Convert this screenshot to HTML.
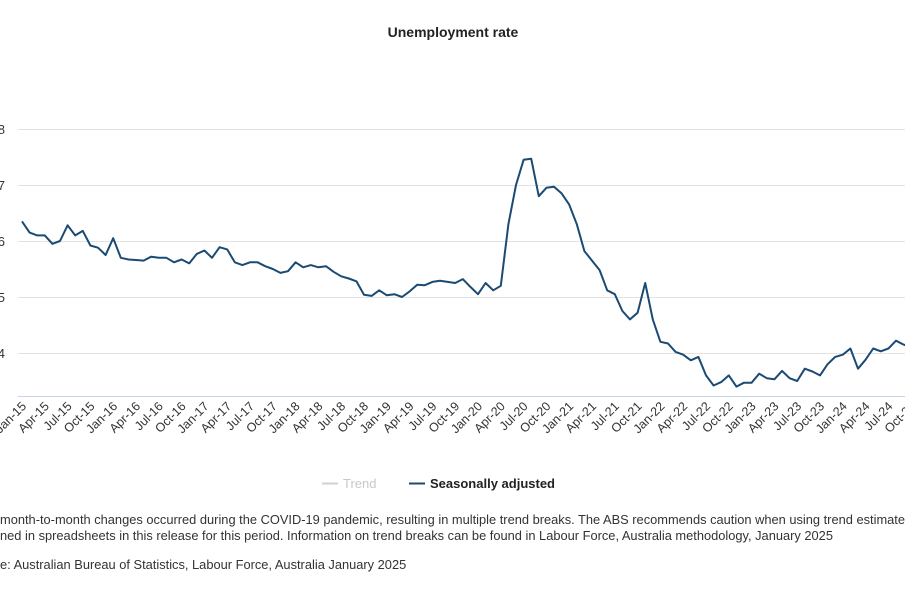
<!DOCTYPE html>
<html><head><meta charset="utf-8"><style>
html,body{margin:0;padding:0;background:#fff;width:905px;height:600px;overflow:hidden}
svg{display:block;font-family:"Liberation Sans",Arial,sans-serif}
</style></head><body>
<svg id="s" width="905" height="600" viewBox="0 0 905 600">
<text x="453" y="37" text-anchor="middle" font-size="14" font-weight="bold" fill="#222">Unemployment rate</text>
<g stroke="#e3e3e3" stroke-width="1">
<line x1="18" x2="905" y1="129.5" y2="129.5"/>
<line x1="18" x2="905" y1="185.5" y2="185.5"/>
<line x1="18" x2="905" y1="241.5" y2="241.5"/>
<line x1="18" x2="905" y1="297.5" y2="297.5"/>
<line x1="18" x2="905" y1="353.5" y2="353.5"/>
</g>
<line x1="18" x2="905" y1="396.5" y2="396.5" stroke="#c9d4ec" stroke-width="1"/>
<g font-size="13" fill="#333" text-anchor="end">
<text x="5" y="134">8</text><text x="5" y="190">7</text><text x="5" y="246">6</text><text x="5" y="302">5</text><text x="5" y="358">4</text>
</g>
<g id="xl" font-size="12.5" fill="#333" text-anchor="end"></g>
<path id="p" fill="none" stroke="#1b4a72" stroke-width="2" stroke-linejoin="round"/>
<line x1="322" x2="338" y1="483.5" y2="483.5" stroke="#d0d0d0" stroke-width="2"/>
<text x="343" y="488" font-size="13" fill="#c8c8c8">Trend</text>
<line x1="409" x2="425" y1="483.5" y2="483.5" stroke="#1b4a72" stroke-width="2"/>
<text x="430" y="488" font-size="13" font-weight="bold" fill="#222">Seasonally adjusted</text>
<g font-size="12.85" fill="#333">
<text x="0" y="524" text-anchor="end">Large </text>
<text x="0" y="524">month-to-month changes occurred during the COVID-19 pandemic, resulting in multiple trend breaks. The ABS recommends caution when using trend estimates</text>
<text x="0" y="540" text-anchor="end">contai</text>
<text x="0" y="540">ned in spreadsheets in this release for this period. Information on trend breaks can be found in Labour Force, Australia methodology, January 2025</text>
<text x="0" y="569" text-anchor="end">Sourc</text>
<text x="0" y="569">e: Australian Bureau of Statistics, Labour Force, Australia January 2025</text>
</g>
</svg>
<script>
var v=[6.35,6.15,6.1,6.1,5.95,6.0,6.28,6.1,6.18,5.92,5.88,5.75,
6.05,5.7,5.67,5.66,5.65,5.72,5.7,5.7,5.62,5.67,5.6,5.77,
5.83,5.7,5.89,5.85,5.62,5.57,5.62,5.62,5.55,5.5,5.43,5.46,
5.62,5.53,5.57,5.53,5.55,5.45,5.37,5.33,5.28,5.04,5.02,5.12,
5.03,5.05,5.0,5.1,5.22,5.21,5.27,5.29,5.27,5.25,5.32,5.18,
5.05,5.25,5.12,5.2,6.3,7.0,7.45,7.47,6.8,6.95,6.97,6.85,
6.65,6.3,5.82,5.65,5.48,5.12,5.05,4.75,4.6,4.72,5.25,4.6,
4.2,4.17,4.02,3.97,3.87,3.93,3.6,3.42,3.48,3.6,3.4,3.47,
3.47,3.63,3.55,3.53,3.68,3.55,3.5,3.72,3.67,3.6,3.8,3.93,
3.97,4.08,3.72,3.88,4.08,4.03,4.08,4.22,4.15,4.1];
var x0=22,dx=7.6,d="";
for(var i=0;i<v.length;i++){d+=(i?"L":"M")+(x0+i*dx).toFixed(1)+","+(353-(v[i]-4)*56).toFixed(1);}
document.getElementById("p").setAttribute("d",d);
var m=["Jan","Apr","Jul","Oct"],g=document.getElementById("xl"),h="";
for(var k=0;k<40;k++){var x=x0+k*3*dx,yr=15+Math.floor(k/4);
h+='<text transform="translate('+(x+5)+',407) rotate(-45)">'+m[k%4]+'-'+yr+'</text>';}
g.innerHTML=h;
</script>
</body></html>
